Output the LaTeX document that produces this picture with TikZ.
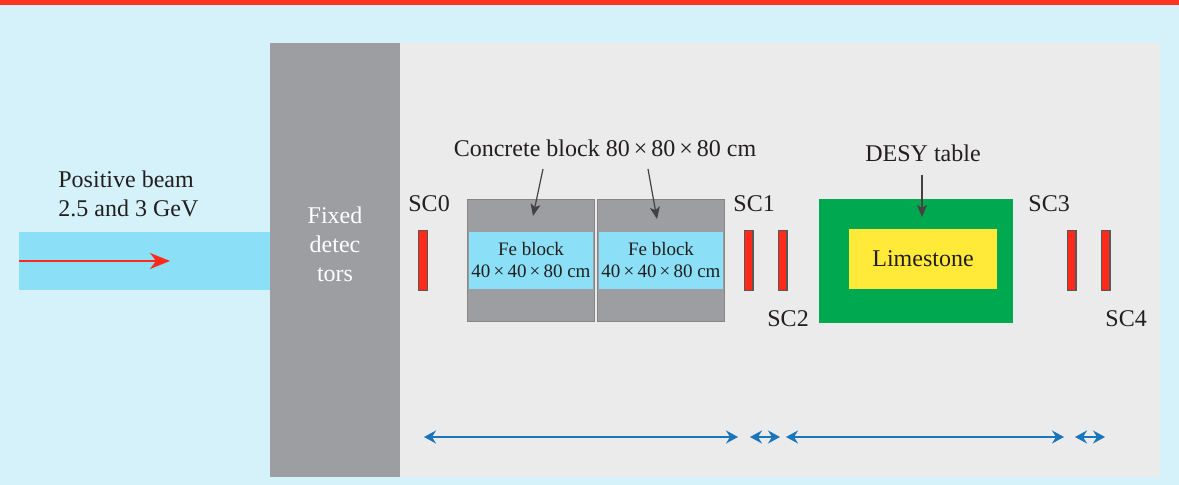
\documentclass[tikz,border=0pt]{standalone}
\usepackage{fontspec}
\setmainfont{Liberation Serif}
\newfontfamily\timesfont{Liberation Serif}
\usetikzlibrary{arrows.meta,positioning}

\definecolor{topred}{HTML}{FF3420}
\definecolor{skyblue}{HTML}{D5F2FB}
\definecolor{beamblue}{HTML}{8BE0F7}
\definecolor{detgray}{HTML}{9D9EA2}
\definecolor{hallgray}{HTML}{EBEBEB}
\definecolor{scred}{HTML}{FF2A1A}
\definecolor{desygreen}{HTML}{00A94F}
\definecolor{limeyellow}{HTML}{FFEA3A}
\definecolor{dimblue}{HTML}{1B75BB}
\definecolor{ink}{HTML}{231F20}

\newcommand{\bx}{\,×\,}

\begin{document}
\begin{tikzpicture}[
  x=0.5pt, y=-0.5pt,
  lbl/.style={font=\timesfont\fontsize{12}{14.5}\selectfont, text=ink, inner sep=0pt},
  felbl/.style={font=\timesfont\fontsize{9.5}{11}\selectfont, text=ink, inner sep=0pt, align=center},
  scbar/.style={draw=ink!75, fill=scred, line width=0.6pt, minimum width=4.4pt,
                minimum height=29.9pt, inner sep=0pt},
  concrete/.style={draw=ink!55, fill=detgray, line width=0.6pt, minimum width=63.4pt,
                   minimum height=61pt, inner sep=0pt},
  feblock/.style={fill=beamblue, minimum width=62.4pt, minimum height=28.5pt, inner sep=0pt},
  ptr/.style={-{Stealth[length=6pt, width=5pt, inset=1.5pt]}, draw=ink!85, line width=0.6pt},
  dim/.style={{Stealth[length=6pt, width=6.5pt, inset=2pt]}-{Stealth[length=6pt, width=6.5pt, inset=2pt]},
              draw=dimblue, line width=0.9pt},
  beam/.style={-{Stealth[length=10pt, width=8pt, inset=3pt]}, draw=scred, line width=1pt}
]
\useasboundingbox (0,0) rectangle (1179,485);

% background and hall
\fill[skyblue] (0,0) rectangle (1179,485);
\fill[topred] (0,0) rectangle (1179,5);
\fill[beamblue] (19,232) rectangle (270,290);
\fill[hallgray] (400,43) rectangle (1160,477);
\fill[detgray] (270,43) rectangle (400,477);

% incoming beam
\node[lbl, anchor=base west, align=left] (beamlbl) at (58,217) {Positive beam\\2.5 and 3 GeV};
\coordinate (beamstart) at (19,261);
\coordinate (beamtip) at (170,261);
\draw[beam] (beamstart) -- (beamtip);

\node[lbl, text=white, align=center, anchor=base] (fixed) at (335,282) {Fixed\\detec\\tors};

% concrete + Fe blocks
\node[concrete] (cb1) at (531,260.5) {};
\node[concrete] (cb2) at (661,260.5) {};
\node[feblock, felbl] (fe1) at (cb1.center) {Fe block\\40\bx40\bx80 cm};
\node[feblock, felbl] (fe2) at (cb2.center) {Fe block\\40\bx40\bx80 cm};
\node[lbl, anchor=base] (conclbl) at (605,157) {Concrete block 80\bx80\bx80 cm};
\coordinate (p1s) at (543,169);
\coordinate (p1e) at (533,216);
\coordinate (p2s) at (648,169);
\coordinate (p2e) at (657,219);
\draw[ptr] (p1s) -- (p1e);
\draw[ptr] (p2s) -- (p2e);

% DESY table
\node[fill=desygreen, minimum width=97pt, minimum height=62pt, inner sep=0pt] (desy) at (916,261) {};
\node[fill=limeyellow, lbl, minimum width=74pt, minimum height=30pt] (lime) at (923,259) {Limestone};
\node[lbl, anchor=base] (desylbl) at (923,162) {DESY table};
\coordinate (p3s) at (922,175);
\coordinate (p3e) at (922,217);
\draw[ptr] (p3s) -- (p3e);

% scintillation counters
\node[scbar] (sc0) at (423,260.5) {};
\node[scbar] (sc1) at (748.5,260.5) {};
\node[scbar] (sc2) at (782.5,260.5) {};
\node[scbar] (sc3) at (1071.5,260.5) {};
\node[scbar] (sc4) at (1105.5,260.5) {};
\node[lbl, anchor=base west] (sc0lbl) at (408,212) {SC0};
\node[lbl, anchor=base west] (sc1lbl) at (733,212) {SC1};
\node[lbl, anchor=base west] (sc2lbl) at (767,327) {SC2};
\node[lbl, anchor=base west] (sc3lbl) at (1028,212) {SC3};
\node[lbl, anchor=base west] (sc4lbl) at (1105,327) {SC4};

% distances
\coordinate (d0) at (424,437);
\coordinate (d1) at (738,437);
\coordinate (d2) at (750,437);
\coordinate (d3) at (780,437);
\coordinate (d4) at (786,437);
\coordinate (d5) at (1064,437);
\coordinate (d6) at (1075,437);
\coordinate (d7) at (1105,437);
\draw[dim] (d0) -- (d1);
\draw[dim] (d2) -- (d3);
\draw[dim] (d4) -- (d5);
\draw[dim] (d6) -- (d7);
\end{tikzpicture}
\end{document}
